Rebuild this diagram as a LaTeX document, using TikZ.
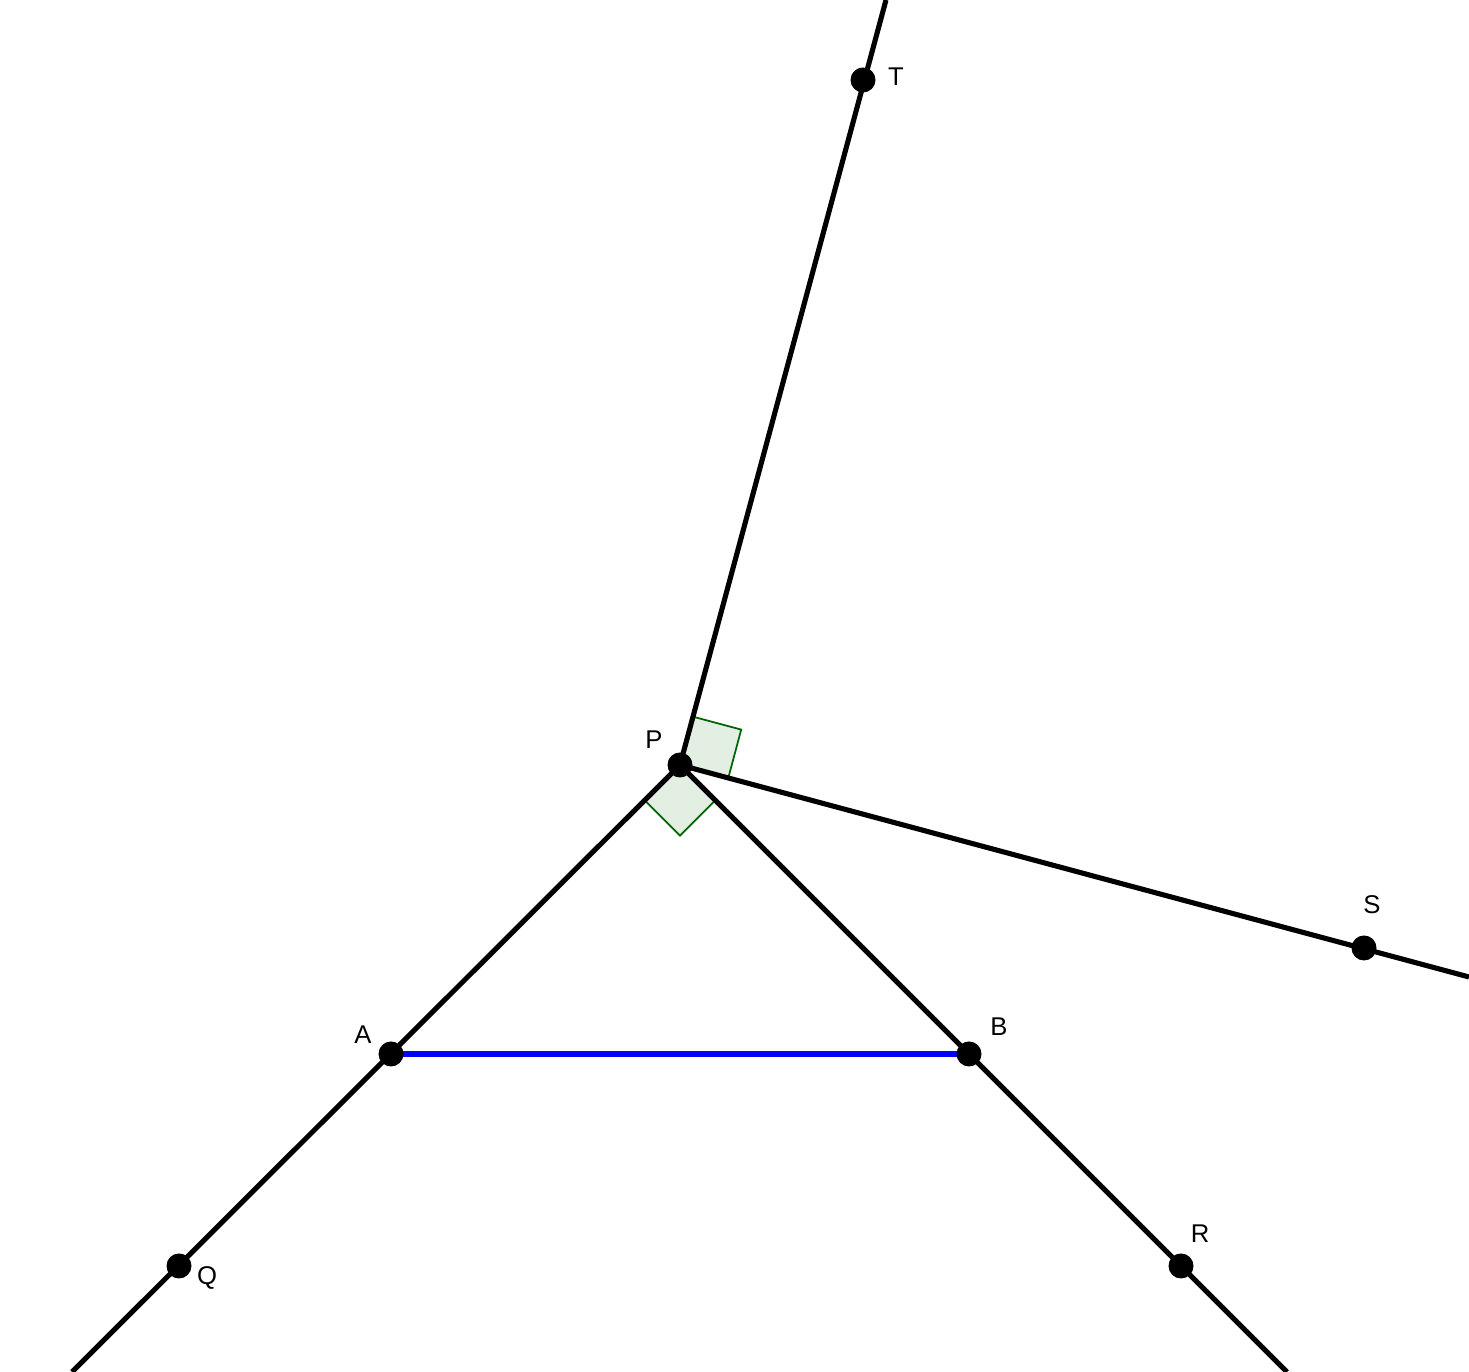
\documentclass[tikz,border=0pt]{standalone}
\usepackage{fontspec}
\setmainfont{Liberation Sans}
\usepackage{xcolor}
\usetikzlibrary{calc}
\definecolor{ink}{HTML}{000000}
\definecolor{base}{HTML}{0000FF}
\definecolor{mark}{HTML}{006400}
\definecolor{markfill}{HTML}{E4EFE4}
\tikzset{
  ray/.style={line width=1.45pt, draw=ink},
  baseline/.style={line width=1.45pt, draw=base},
  pt/.style={circle, fill=ink, inner sep=0pt, minimum size=0.25cm},
  lab/.style={font=\fontsize{7.3}{8}\selectfont, inner sep=0pt},
  rmark/.style={draw=mark, fill=markfill, line width=0.5pt}
}
\begin{document}
\begin{tikzpicture}[x=1cm,y=1cm]
  \useasboundingbox (0,0) rectangle (14.69,13.72);

  \coordinate (P) at (6.80,6.07);
  \coordinate (A) at (3.91,3.18);
  \coordinate (B) at (9.69,3.18);
  \coordinate (Q) at (1.79,1.06);
  \coordinate (R) at (11.81,1.06);
  \coordinate (S) at (13.64,4.24);
  \coordinate (T) at (8.63,12.92);
  \coordinate (endQ) at (0.72,0);
  \coordinate (endR) at (12.87,0);
  \coordinate (endS) at (14.69,3.95);
  \coordinate (endT) at (8.86,13.72);

  % right angle markers at P
  \coordinate (mA) at ($(P)!0.5cm!(A)$);
  \coordinate (mB) at ($(P)!0.5cm!(B)$);
  \coordinate (mS) at ($(P)!0.5cm!(S)$);
  \coordinate (mT) at ($(P)!0.5cm!(T)$);
  \draw[rmark] (P) -- (mA) -- ($(mA)+(mB)-(P)$) -- (mB) -- cycle;
  \draw[rmark] (P) -- (mT) -- ($(mT)+(mS)-(P)$) -- (mS) -- cycle;

  % rays through P
  \draw[ray] (endQ) -- (P) -- (endR);
  \draw[ray] (P) -- (endS);
  \draw[ray] (P) -- (endT);
  \draw[baseline] (A) -- (B);

  \foreach \p in {P,A,B,Q,R,S,T} \node[pt] (n\p) at (\p) {};

  \node[lab] (lP) at (6.54,6.32) {P};
  \node[lab] (lA) at (3.63,3.37) {A};
  \node[lab] (lB) at (9.99,3.45) {B};
  \node[lab] (lQ) at (2.07,0.94) {Q};
  \node[lab] (lR) at (12.00,1.38) {R};
  \node[lab] (lS) at (13.72,4.67) {S};
  \node[lab] (lT) at (8.96,12.95) {T};
\end{tikzpicture}
\end{document}
